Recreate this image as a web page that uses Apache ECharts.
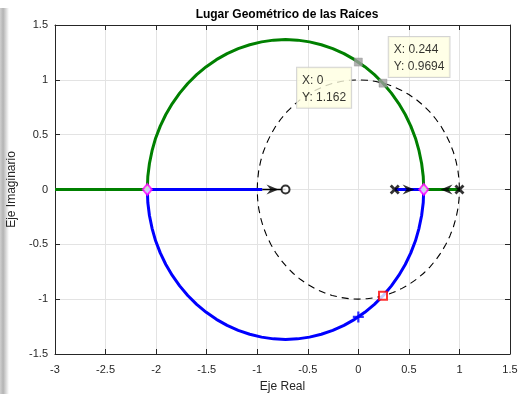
<!DOCTYPE html>
<html>
<head>
<meta charset="utf-8">
<script src="https://cdn.jsdelivr.net/npm/echarts@6/dist/echarts.min.js"></script>
<style>html,body{margin:0;padding:0;background:#fff;}#c{width:518px;height:394px;}</style>
</head>
<body>
<div id="c"></div>
<script>
// ---- data ----
const xTicks = [-3, -2.5, -2, -1.5, -1, -0.5, 0, 0.5, 1, 1.5];
const yTicks = [-1.5, -1, -0.5, 0, 0.5, 1, 1.5];
const poles = [[0.36, 0], [1, 0]];
const zeros = [[-0.72, 0]];
const breakPoints = [[-2.087, 0], [0.647, 0]];
const greenRealLeft = [[-2.087, 0], [-3, 0]];
const greenPoleSeg = [[1, 0], [0.647, 0]];
const bluePoleSeg = [[0.36, 0], [0.647, 0]];
const blueRealSeg = [[-2.087, 0], [-0.95, 0]];
const stemSeg = [[-0.95, 0], [-0.72, 0]];
const greenUpperArc = [
  [0.647, 0], [0.642, 0.119], [0.626, 0.237], [0.600, 0.354], [0.565, 0.468],
  [0.519, 0.578], [0.464, 0.684], [0.400, 0.784], [0.327, 0.879], [0.247, 0.967],
  [0.159, 1.047], [0.064, 1.120], [-0.037, 1.184], [-0.142, 1.239], [-0.253, 1.285],
  [-0.366, 1.320], [-0.483, 1.346], [-0.601, 1.362], [-0.720, 1.367], [-0.839, 1.362],
  [-0.957, 1.346], [-1.074, 1.320], [-1.188, 1.285], [-1.298, 1.239], [-1.404, 1.184],
  [-1.504, 1.120], [-1.599, 1.047], [-1.687, 0.967], [-1.767, 0.879], [-1.840, 0.784],
  [-1.904, 0.684], [-1.959, 0.578], [-2.005, 0.468], [-2.040, 0.354], [-2.066, 0.237],
  [-2.082, 0.119], [-2.087, 0]
];
const blueLowerArc = [
  [0.647, 0], [0.642, -0.119], [0.626, -0.237], [0.600, -0.354], [0.565, -0.468],
  [0.519, -0.578], [0.464, -0.684], [0.400, -0.784], [0.327, -0.879], [0.247, -0.967],
  [0.159, -1.047], [0.064, -1.120], [-0.037, -1.184], [-0.142, -1.239], [-0.253, -1.285],
  [-0.366, -1.320], [-0.483, -1.346], [-0.601, -1.362], [-0.720, -1.367], [-0.839, -1.362],
  [-0.957, -1.346], [-1.074, -1.320], [-1.188, -1.285], [-1.298, -1.239], [-1.404, -1.184],
  [-1.504, -1.120], [-1.599, -1.047], [-1.687, -0.967], [-1.767, -0.879], [-1.840, -0.784],
  [-1.904, -0.684], [-1.959, -0.578], [-2.005, -0.468], [-2.040, -0.354], [-2.066, -0.237],
  [-2.082, -0.119], [-2.087, 0]
];
const unitCircle = [
  [1, 0], [0.996, 0.087], [0.985, 0.174], [0.966, 0.259], [0.940, 0.342], [0.906, 0.423],
  [0.866, 0.5], [0.819, 0.574], [0.766, 0.643], [0.707, 0.707], [0.643, 0.766], [0.574, 0.819],
  [0.5, 0.866], [0.423, 0.906], [0.342, 0.940], [0.259, 0.966], [0.174, 0.985], [0.087, 0.996],
  [0, 1], [-0.087, 0.996], [-0.174, 0.985], [-0.259, 0.966], [-0.342, 0.940], [-0.423, 0.906],
  [-0.5, 0.866], [-0.574, 0.819], [-0.643, 0.766], [-0.707, 0.707], [-0.766, 0.643], [-0.819, 0.574],
  [-0.866, 0.5], [-0.906, 0.423], [-0.940, 0.342], [-0.966, 0.259], [-0.985, 0.174], [-0.996, 0.087],
  [-1, 0], [-0.996, -0.087], [-0.985, -0.174], [-0.966, -0.259], [-0.940, -0.342], [-0.906, -0.423],
  [-0.866, -0.5], [-0.819, -0.574], [-0.766, -0.643], [-0.707, -0.707], [-0.643, -0.766], [-0.574, -0.819],
  [-0.5, -0.866], [-0.423, -0.906], [-0.342, -0.940], [-0.259, -0.966], [-0.174, -0.985], [-0.087, -0.996],
  [0, -1], [0.087, -0.996], [0.174, -0.985], [0.259, -0.966], [0.342, -0.940], [0.423, -0.906],
  [0.5, -0.866], [0.574, -0.819], [0.643, -0.766], [0.707, -0.707], [0.766, -0.643], [0.819, -0.574],
  [0.866, -0.5], [0.906, -0.423], [0.940, -0.342], [0.966, -0.259], [0.985, -0.174], [0.996, -0.087],
  [1, 0]
];
const dataTipA = [0, 1.162];
const dataTipB = [0.244, 0.9694];
const redSquare = [[0.244, -0.9694]];
const bluePlus = [[0, -1.162]];
const arrowsRight = [[-0.849, 0], [0.497, 0]];
const arrowsLeft = [[0.872, 0]];

const FONT = '"Liberation Sans", Arial, Helvetica, sans-serif';
const GREEN = '#008000', BLUE = '#0000ff';
const xPath = 'path://M2,0 L5,3 L8,0 L10,2 L7,5 L10,8 L8,10 L5,7 L2,10 L0,8 L3,5 L0,2 Z';
const plusPath = 'path://M4,0 L6,0 L6,4 L10,4 L10,6 L6,6 L6,10 L4,10 L4,6 L0,6 L0,4 L4,4 Z';
const arrowPath = 'path://M0,0 L12,5 L0,10 L4,5 Z';

function lineSeries(data, color, width, extra) {
  return Object.assign({
    type: 'line', data: data, symbol: 'none', showSymbol: false, smooth: false,
    lineStyle: { color: color, width: width, join: 'round' }, silent: true, z: 3
  }, extra || {});
}

const tipLabel = {
  show: true, color: '#000', fontFamily: FONT, fontSize: 12, lineHeight: 17,
  backgroundColor: '#ffffe1', borderColor: '#c9c9c9', borderWidth: 1,
  padding: [4, 5, 2, 5], align: 'left', verticalAlign: 'top',
  formatter: p => 'X: ' + p.value[0] + '\nY: ' + p.value[1]
};

const chart = echarts.init(document.getElementById('c'), null, { renderer: 'canvas' });
chart.setOption({
  animation: false,
  backgroundColor: '#fff',
  title: {
    text: 'Lugar Geométrico de las Raíces', left: 282, top: 4, textAlign: 'center',
    textStyle: { fontFamily: FONT, fontSize: 12, fontWeight: 'bold', color: '#000' }
  },
  graphic: [{
    type: 'rect', left: 0, top: 8, shape: { width: 9, height: 386 }, silent: true,
    style: { fill: new echarts.graphic.LinearGradient(0, 0, 1, 0, [
      { offset: 0, color: '#d0d0d0' }, { offset: 0.35, color: '#b4b4b4' }, { offset: 1, color: '#ffffff' }
    ]) }
  }],
  grid: { left: 55, right: 8, top: 25, bottom: 40, containLabel: false, outerBoundsMode: 'none' },
  xAxis: [{
    type: 'value', min: xTicks[0], max: xTicks[xTicks.length - 1], interval: 0.5,
    name: 'Eje Real', nameLocation: 'middle', nameGap: 27,
    nameTextStyle: { fontFamily: FONT, fontSize: 12, color: '#262626' },
    axisLine: { show: true, onZero: false, lineStyle: { color: '#262626', width: 1 } },
    axisTick: { show: true, inside: true, length: 5, lineStyle: { color: '#262626' } },
    axisLabel: { fontFamily: FONT, fontSize: 11, color: '#262626', margin: 10 },
    splitLine: { show: true, lineStyle: { color: '#e3e3e3', width: 1 } }
  }, {
    type: 'value', position: 'top', min: xTicks[0], max: xTicks[xTicks.length - 1], interval: 0.5,
    axisLine: { show: true, onZero: false, lineStyle: { color: '#262626', width: 1 } },
    axisTick: { show: true, inside: true, length: 5, lineStyle: { color: '#262626' } },
    axisLabel: { show: false }, splitLine: { show: false }
  }],
  yAxis: [{
    type: 'value', min: yTicks[0], max: yTicks[yTicks.length - 1], interval: 0.5,
    name: 'Eje Imaginario', nameLocation: 'middle', nameGap: 32,
    nameTextStyle: { fontFamily: FONT, fontSize: 12, color: '#262626' },
    axisLine: { show: true, onZero: false, lineStyle: { color: '#262626', width: 1 } },
    axisTick: { show: true, inside: true, length: 5, lineStyle: { color: '#262626' } },
    axisLabel: { fontFamily: FONT, fontSize: 11, color: '#262626', margin: 7 },
    splitLine: { show: true, lineStyle: { color: '#e3e3e3', width: 1 } }
  }, {
    type: 'value', position: 'right', min: yTicks[0], max: yTicks[yTicks.length - 1], interval: 0.5,
    axisLine: { show: true, onZero: false, lineStyle: { color: '#262626', width: 1 } },
    axisTick: { show: true, inside: true, length: 5, lineStyle: { color: '#262626' } },
    axisLabel: { show: false }, splitLine: { show: false }
  }],
  series: [
    lineSeries(unitCircle, '#000', 1.1, { z: 2, lineStyle: { color: '#000', width: 1.1, type: [7, 5] } }),
    lineSeries(greenUpperArc, GREEN, 3),
    lineSeries(greenRealLeft, GREEN, 3),
    lineSeries(greenPoleSeg, GREEN, 3),
    lineSeries(blueLowerArc, BLUE, 3),
    lineSeries(blueRealSeg, BLUE, 3),
    lineSeries(bluePoleSeg, BLUE, 3),
    lineSeries(stemSeg, '#000', 1.5),
    { type: 'scatter', data: arrowsRight, symbol: arrowPath, symbolSize: [12, 10], z: 6, silent: true,
      itemStyle: { color: '#000' } },
    { type: 'scatter', data: arrowsLeft, symbol: arrowPath, symbolSize: [12, 10], symbolRotate: 180, z: 6, silent: true,
      itemStyle: { color: '#000' } },
    { type: 'scatter', data: poles, symbol: xPath, symbolSize: 10, z: 7, silent: true,
      itemStyle: { color: '#000' } },
    { type: 'scatter', data: zeros, symbol: 'emptyCircle', symbolSize: 8, z: 7, silent: true,
      itemStyle: { color: '#000', borderColor: '#000', borderWidth: 2.5 } },
    { type: 'scatter', data: breakPoints, symbol: 'emptyDiamond', symbolSize: [9, 11], z: 7, silent: true,
      itemStyle: { color: '#ff00ff', borderColor: '#ff00ff', borderWidth: 2 } },
    { type: 'scatter', data: redSquare, symbol: 'emptyRect', symbolSize: 8, z: 7, silent: true,
      itemStyle: { color: '#ff0000', borderColor: '#ff0000', borderWidth: 2 } },
    { type: 'scatter', data: bluePlus, symbol: plusPath, symbolSize: 11, z: 7, silent: true,
      itemStyle: { color: BLUE } },
    { type: 'scatter', symbol: 'rect', symbolSize: 8, z: 8, silent: true,
      itemStyle: { color: '#9e9e9e', borderColor: '#8a8a8a', borderWidth: 0.5 },
      data: [
        { value: dataTipA, label: Object.assign({}, tipLabel, { position: [-57, 10] }) },
        { value: dataTipB, label: Object.assign({}, tipLabel, { position: [10, -42] }) }
      ] }
  ]
});
</script>
</body>
</html>
